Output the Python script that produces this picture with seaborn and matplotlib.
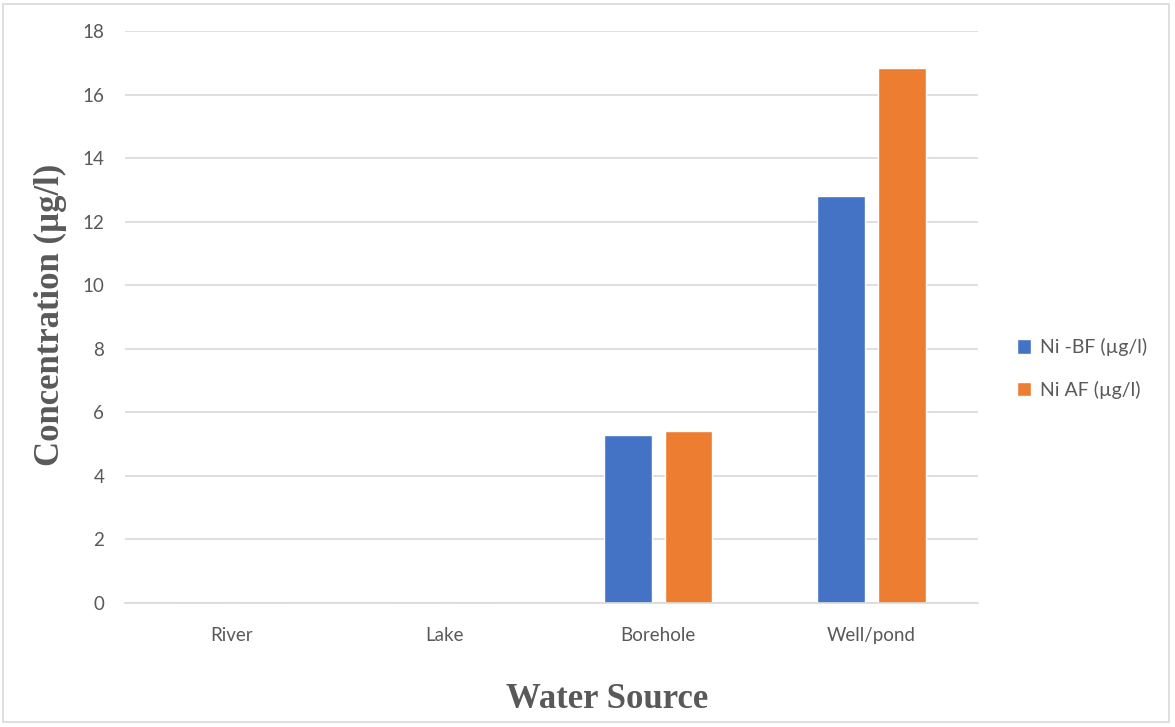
import matplotlib
matplotlib.use("Agg")
import matplotlib.pyplot as plt
from matplotlib.patches import Rectangle
import seaborn as sns
import pandas as pd

# Nickel concentration by water source, before (BF) and after (AF) filtration
sources = ["River", "Lake", "Borehole", "Well/pond"]
ni_bf = [0.0, 0.0, 5.3, 12.8]
ni_af = [0.0, 0.0, 5.4, 16.85]
series_names = ["Ni -BF (\u00b5g/l)", "Ni AF (\u00b5g/l)"]
colors = ["#4472C4", "#ED7D31"]
y_ticks = [0, 2, 4, 6, 8, 10, 12, 14, 16, 18]

df = pd.DataFrame({
    "Water Source": sources * 2,
    "Concentration": ni_bf + ni_af,
    "Series": [series_names[0]] * len(sources) + [series_names[1]] * len(sources),
})

sns.set_theme(style="white")
plt.rcParams["font.family"] = ["Lato", "DejaVu Sans"]

fig = plt.figure(figsize=(11.75, 7.27), dpi=100)
ax = fig.add_axes([125 / 1175, 1 - 603 / 727, (978 - 125) / 1175, (603 - 31) / 727])

sns.barplot(data=df, x="Water Source", y="Concentration", hue="Series",
            palette=colors, width=0.572, gap=0.217, saturation=1,
            ax=ax, legend=True)

ax.set_ylim(0, 18)
ax.set_xlim(-0.5, 3.5)
ax.set_yticks(y_ticks)
ax.yaxis.grid(True, color="#d9d9d9", linewidth=1.2)
ax.set_axisbelow(True)
for side in ["top", "right", "left"]:
    ax.spines[side].set_visible(False)
ax.spines["bottom"].set_color("#d9d9d9")
ax.spines["bottom"].set_linewidth(1.2)
ax.tick_params(axis="both", length=0, labelsize=13.5, labelcolor="#595959")
ax.tick_params(axis="x", pad=17)
ax.tick_params(axis="y", pad=15)

label_font = dict(family="Liberation Serif", weight="bold", size=25, color="#595959")
ax.set_xlabel("")
ax.set_ylabel("")
fig.text(607 / 1175, 1 - 700 / 727, "Water Source", ha="center", va="center", **label_font)
fig.text(50 / 1175, 1 - 315 / 727, "Concentration (\u00b5g/l)", ha="center", va="center",
         rotation=90, **label_font)

leg = ax.legend(loc="center left", bbox_to_anchor=(1.025, 0.41), frameon=False,
                fontsize=14, labelcolor="#595959", handlelength=0.75, handleheight=0.75,
                handletextpad=0.45, labelspacing=1.25)

# Light frame around the whole chart area
fig.patches.append(Rectangle((3 / 1175, 1 - 722 / 727), 1166 / 1175, 718 / 727,
                             transform=fig.transFigure, fill=False,
                             edgecolor="#d9d9d9", linewidth=1.2))

fig.savefig("out.png", dpi=100)
